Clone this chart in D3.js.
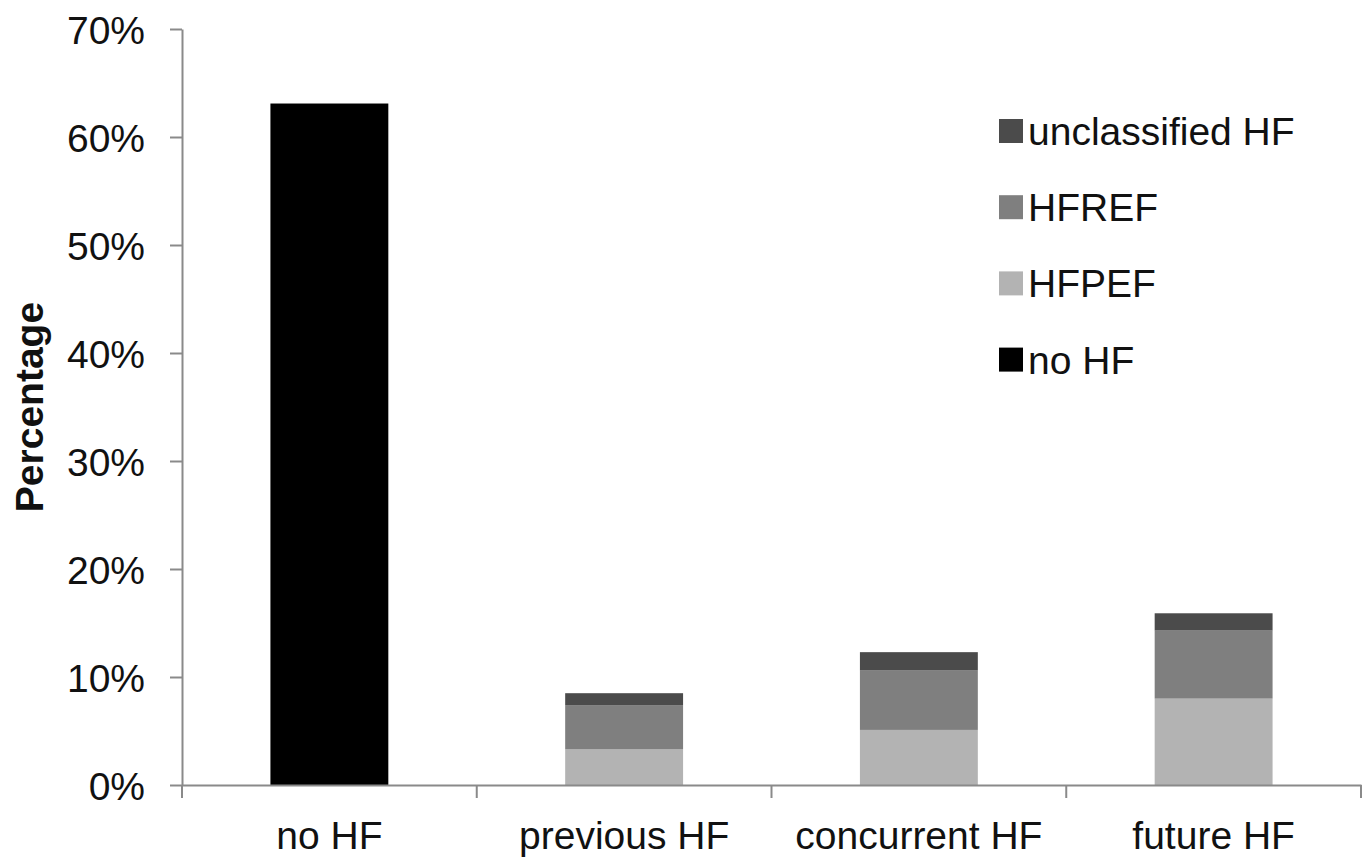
<!DOCTYPE html>
<html>
<head>
<meta charset="utf-8">
<script src="https://cdn.jsdelivr.net/npm/d3@7"></script>
<style>
  html, body { margin: 0; padding: 0; background: #fff; }
  svg text { font-family: "Liberation Sans", Arial, sans-serif; fill: #111; }
</style>
</head>
<body>
<svg id="chart" width="1363" height="861"></svg>
<script>
const categories = ["no HF", "previous HF", "concurrent HF", "future HF"];
const seriesNames = ["no HF", "HFPEF", "HFREF", "unclassified HF"];
const noHF =          [63.1, 0,   0,   0];
const hfpef =         [0,    3.3, 5.1, 8.0];
const hfref =         [0,    4.1, 5.5, 6.3];
const unclassified =  [0,    1.1, 1.7, 1.6];
const yTicks = [0, 10, 20, 30, 40, 50, 60, 70];
const legendOrder = ["unclassified HF", "HFREF", "HFPEF", "no HF"];

const colors = {
  "no HF": "#000000",
  "HFPEF": "#b3b3b3",
  "HFREF": "#7f7f7f",
  "unclassified HF": "#4b4b4b"
};

const rows = categories.map((c, i) => ({
  cat: c,
  "no HF": noHF[i],
  "HFPEF": hfpef[i],
  "HFREF": hfref[i],
  "unclassified HF": unclassified[i]
}));

const svg = d3.select("#chart");
const mLeft = 182, mRight = 1361, mTop = 29, mBottom = 785;

const x = d3.scaleBand().domain(categories).range([mLeft, mRight]).paddingInner(0).paddingOuter(0);
const y = d3.scaleLinear().domain([0, 70]).range([mBottom, mTop]);

const stacked = d3.stack().keys(seriesNames)(rows);
const barW = x.bandwidth() * 0.4;

svg.append("g").selectAll("g")
  .data(stacked)
  .join("g")
  .attr("fill", d => colors[d.key])
  .selectAll("rect")
  .data(d => d.filter(p => p[1] - p[0] > 0))
  .join("rect")
  .attr("x", d => x(d.data.cat) + (x.bandwidth() - barW) / 2)
  .attr("width", barW)
  .attr("y", d => y(d[1]))
  .attr("height", d => y(d[0]) - y(d[1]));

// Y axis
const yAxis = svg.append("g")
  .attr("transform", `translate(${mLeft},0)`)
  .call(d3.axisLeft(y).tickValues(yTicks).tickSize(12).tickSizeOuter(0).tickPadding(25)
    .tickFormat(d => d + "%"));
yAxis.selectAll("path, line").attr("stroke", "#8a8a8a").attr("stroke-width", 2);
yAxis.selectAll("text").style("font-size", "39px").attr("dy", "0.38em").attr("fill", "#111");

// X axis
const xAxis = svg.append("g")
  .attr("transform", `translate(0,${mBottom})`)
  .call(d3.axisBottom(x).tickSize(0).tickSizeOuter(0).tickPadding(36));
xAxis.select(".domain").attr("stroke", "#8a8a8a").attr("stroke-width", 2);
xAxis.selectAll("text").style("font-size", "39px").attr("fill", "#111");
const boundaries = categories.map(c => x(c)).concat([x.range()[1]]);
xAxis.selectAll("line.bound")
  .data(boundaries)
  .join("line")
  .attr("class", "bound")
  .attr("x1", d => d).attr("x2", d => d)
  .attr("y1", 0).attr("y2", 13)
  .attr("stroke", "#8a8a8a").attr("stroke-width", 2);

// Y title
svg.append("text")
  .attr("transform", `translate(43,${(mTop + mBottom) / 2}) rotate(-90)`)
  .attr("text-anchor", "middle")
  .style("font-size", "39px")
  .style("font-weight", "bold")
  .text("Percentage");

// Legend
const legend = svg.append("g").attr("transform", "translate(999,119)");
const li = legend.selectAll("g").data(legendOrder).join("g")
  .attr("transform", (d, i) => `translate(0,${i * 76.2})`);
li.append("rect").attr("width", 24).attr("height", 24).attr("fill", d => colors[d]);
li.append("text").attr("x", 29).attr("y", 12).attr("dy", "0.36em")
  .style("font-size", "39px").text(d => d);
</script>
</body>
</html>
